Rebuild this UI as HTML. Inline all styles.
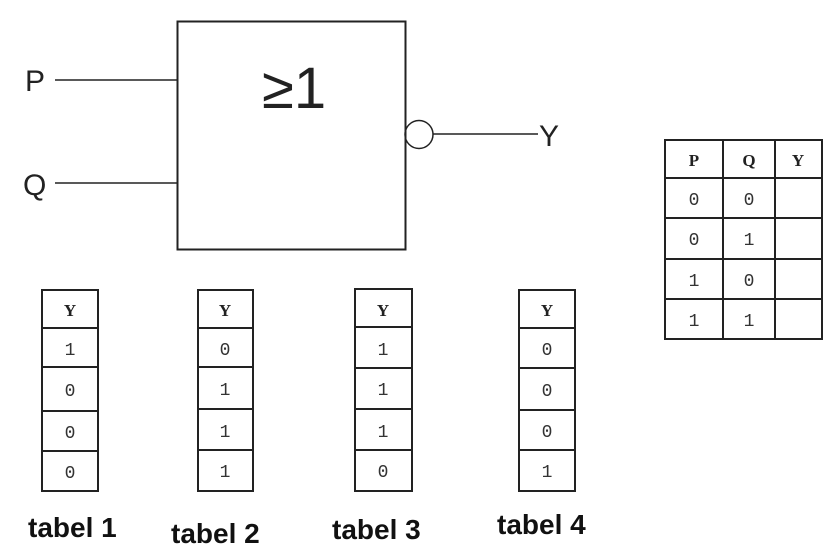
<!DOCTYPE html>
<html><head><meta charset="utf-8"><style>
html,body{margin:0;padding:0;background:#fff;}
svg{display:block;}
.m{font-family:"Liberation Mono",monospace;font-size:18px;fill:#333;text-anchor:middle;}
.h{font-family:"Liberation Serif",serif;font-size:17px;font-weight:bold;fill:#222;text-anchor:middle;}
.s{font-family:"Liberation Sans",sans-serif;fill:#222;}
.t{font-family:"Liberation Sans",sans-serif;font-weight:bold;font-size:28px;fill:#111;}
</style></head><body>
<svg width="840" height="550" viewBox="0 0 840 550" xmlns="http://www.w3.org/2000/svg">
<g stroke="#222" fill="none">
<rect x="177.5" y="21.5" width="228" height="228" stroke-width="2"/>
<line x1="55" y1="80" x2="177" y2="80" stroke-width="1.5"/>
<line x1="55" y1="183" x2="177" y2="183" stroke-width="1.5"/>
<circle cx="419" cy="134.5" r="14" stroke-width="1.5"/>
<line x1="433" y1="134" x2="538" y2="134" stroke-width="1.5"/>
</g>
<text class="s" x="25" y="91" font-size="30">P</text>
<text class="s" x="23" y="195" font-size="30">Q</text>
<text class="s" x="539" y="146" font-size="30">Y</text>
<text class="s" x="262" y="108" font-size="58">≥1</text>

<g stroke="#222" stroke-width="2" fill="none">
<rect x="42" y="290" width="56" height="201"/>
<line x1="42" y1="328" x2="98" y2="328"/><line x1="42" y1="367" x2="98" y2="367"/><line x1="42" y1="411" x2="98" y2="411"/><line x1="42" y1="451" x2="98" y2="451"/>
<rect x="198" y="290" width="55" height="201"/>
<line x1="198" y1="328" x2="253" y2="328"/><line x1="198" y1="367" x2="253" y2="367"/><line x1="198" y1="409" x2="253" y2="409"/><line x1="198" y1="450" x2="253" y2="450"/>
<rect x="355" y="289" width="57" height="202"/>
<line x1="355" y1="327" x2="412" y2="327"/><line x1="355" y1="368" x2="412" y2="368"/><line x1="355" y1="409" x2="412" y2="409"/><line x1="355" y1="450" x2="412" y2="450"/>
<rect x="519" y="290" width="56" height="201"/>
<line x1="519" y1="328" x2="575" y2="328"/><line x1="519" y1="368" x2="575" y2="368"/><line x1="519" y1="410" x2="575" y2="410"/><line x1="519" y1="450" x2="575" y2="450"/>
</g>
<g>
<text class="h" x="70" y="316">Y</text><text class="m" x="70" y="355">1</text><text class="m" x="70" y="396">0</text><text class="m" x="70" y="438">0</text><text class="m" x="70" y="478">0</text>
<text class="h" x="225" y="316">Y</text><text class="m" x="225" y="355">0</text><text class="m" x="225" y="395">1</text><text class="m" x="225" y="437">1</text><text class="m" x="225" y="477">1</text>
<text class="h" x="383" y="316">Y</text><text class="m" x="383" y="355">1</text><text class="m" x="383" y="395">1</text><text class="m" x="383" y="437">1</text><text class="m" x="383" y="477">0</text>
<text class="h" x="547" y="316">Y</text><text class="m" x="547" y="355">0</text><text class="m" x="547" y="396">0</text><text class="m" x="547" y="437">0</text><text class="m" x="547" y="477">1</text>
</g>
<text class="t" x="28" y="537">tabel 1</text>
<text class="t" x="171" y="543">tabel 2</text>
<text class="t" x="332" y="539">tabel 3</text>
<text class="t" x="497" y="534">tabel 4</text>

<g stroke="#222" stroke-width="2" fill="none">
<rect x="665" y="140" width="157" height="199"/>
<line x1="723" y1="140" x2="723" y2="339"/><line x1="775" y1="140" x2="775" y2="339"/>
<line x1="665" y1="178" x2="822" y2="178"/><line x1="665" y1="218" x2="822" y2="218"/><line x1="665" y1="259" x2="822" y2="259"/><line x1="665" y1="299" x2="822" y2="299"/>
</g>
<text class="h" x="694" y="166">P</text><text class="h" x="749" y="166">Q</text><text class="h" x="798" y="166">Y</text>
<text class="m" x="694" y="205">0</text><text class="m" x="749" y="205">0</text>
<text class="m" x="694" y="245">0</text><text class="m" x="749" y="245">1</text>
<text class="m" x="694" y="286">1</text><text class="m" x="749" y="286">0</text>
<text class="m" x="694" y="326">1</text><text class="m" x="749" y="326">1</text>
</svg>
</body></html>
